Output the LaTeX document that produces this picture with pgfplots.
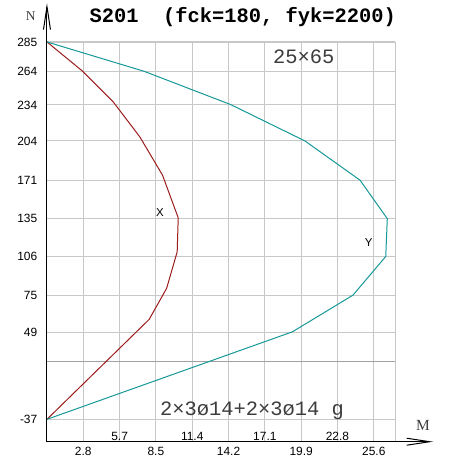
\documentclass[border=0pt]{standalone}
\usepackage{fontspec}
\usepackage{pgfplots}
\pgfplotsset{compat=1.18}
\usetikzlibrary{arrows.meta}
\setmainfont{Liberation Sans}
\newfontfamily\monofont{Liberation Mono}
\newfontfamily\seriffont{Liberation Serif}
\definecolor{curvex}{RGB}{155,28,28}
\definecolor{curvey}{RGB}{22,152,152}
\definecolor{gridc}{RGB}{200,200,200}
\definecolor{zeroc}{RGB}{160,160,160}
\definecolor{labelc}{RGB}{60,60,60}

\begin{document}
\begin{tikzpicture}
\begin{axis}[
  scale only axis, width=348.3bp, height=400bp,
  xmin=0, xmax=27.32, ymin=0, ymax=400,
  axis line style={draw=none},
  clip=false,
  tick style={draw=none},
  grid=major,
  grid style={gridc, line width=1.1bp},
  xtick={2.85,8.55,14.25,19.95,25.65},
  xticklabels={2.8,8.5,14.2,19.9,25.6},
  extra x ticks={5.7,11.4,17.1,22.8,27.32},
  extra x tick labels={5.7,11.4,17.1,22.8,},
  extra x tick style={grid=major, xticklabel style={anchor=base, yshift=6bp}},
  ytick={22.4,109.7,146.7,185.7,223.2,261.7,301,337,370.7,400},
  yticklabels={-37,49,75,106,135,171,204,234,264,285},
  extra y ticks={80.7},
  extra y tick labels={},
  extra y tick style={grid=major, grid style={zeroc, line width=1.1bp}},
  ticklabel style={font=\fontsize{12}{12}\selectfont, text=black},
  xticklabel style={anchor=north, inner sep=0pt, yshift=-5bp},
  yticklabel style={anchor=east, inner sep=0pt, xshift=-9.5bp},
]
% interaction curve about the x axis
\addplot[curvex, line width=1bp] coordinates {
  (0,400) (2.80,370.7) (5.20,340) (7.29,305) (9.07,266.7) (10.30,224)
  (10.22,190) (9.39,153.4) (8.02,122.4) (0,22.4)};
% interaction curve about the y axis
\addplot[curvey, line width=1bp] coordinates {
  (0,400) (7.61,370.7) (14.41,337.4) (20.24,301) (24.57,261.7) (26.71,223.2)
  (26.59,185.4) (24.02,146.7) (19.27,110) (0,22.4)};

% axes with open arrow heads
\draw[line width=1bp, -{Straight Barb[length=23bp,width=7bp]}] (axis cs:0,0) -- (axis cs:0,438.7);
\draw[line width=1bp, -{Straight Barb[length=23bp,width=7bp]}] (axis cs:0,0) -- (axis cs:30.3,0);

% labels
\node[anchor=base, inner sep=0pt, font=\monofont\bfseries\fontsize{20.5}{20.5}\selectfont]
  at (axis cs:15.37,419) {S201~~(fck=180, fyk=2200)};
\node[anchor=base west, inner sep=0pt, text=labelc, font=\monofont\fontsize{20.5}{20.5}\selectfont]
  at (axis cs:17.73,378.4) {25×65};
\node[anchor=base west, inner sep=0pt, text=labelc, font=\monofont\fontsize{20.5}{20.5}\selectfont]
  at (axis cs:8.86,26.7) {2×3ø14+2×3ø14 g};
\node[anchor=base, inner sep=0pt, font=\fontsize{11.5}{11.5}\selectfont] at (axis cs:8.86,225) {X};
\node[anchor=base, inner sep=0pt, font=\fontsize{11.5}{11.5}\selectfont] at (axis cs:25.25,195.7) {Y};
\node[anchor=base, inner sep=0pt, text=labelc, font=\seriffont\fontsize{13.5}{13.5}\selectfont] at (axis cs:-1.28,421) {N};
\node[anchor=base, inner sep=0pt, text=labelc, font=\seriffont\fontsize{15.5}{15.5}\selectfont] at (axis cs:29.51,11.7) {M};

% picture frame
\path (axis cs:0,0) ++(-47bp,-22.3bp) rectangle ++(449bp,464bp);
\end{axis}
\end{tikzpicture}
\end{document}
